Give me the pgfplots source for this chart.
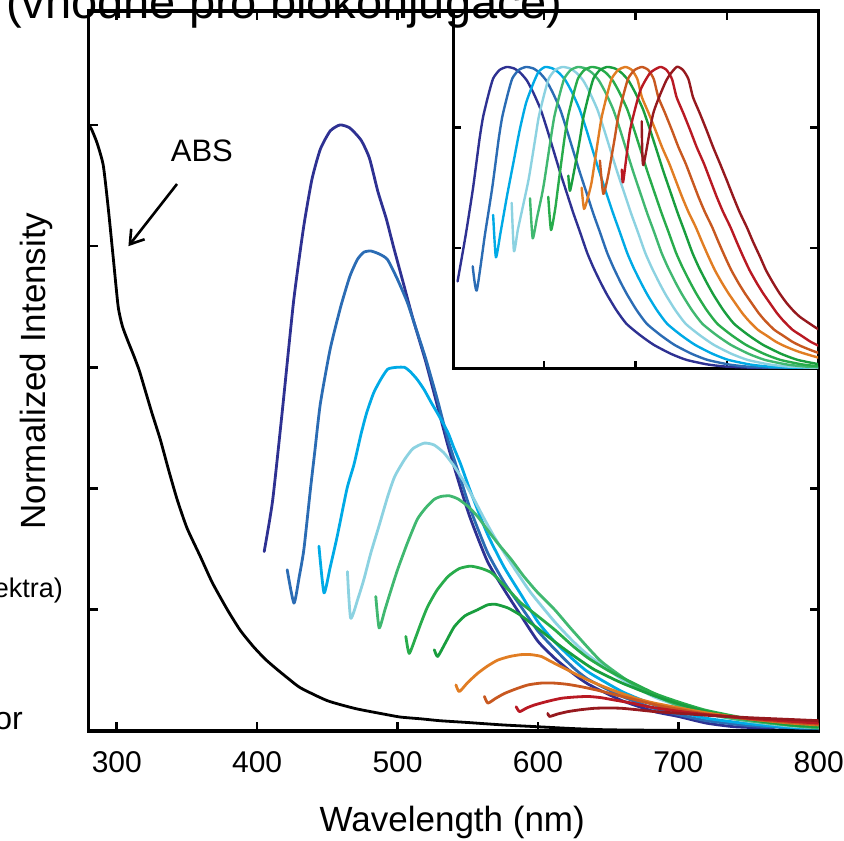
\documentclass[border=0pt]{standalone}
\usepackage{fontspec}
\setmainfont{Liberation Sans}
\usepackage{pgfplots}
\pgfplotsset{compat=1.18}
\usetikzlibrary{arrows.meta}
\definecolor{cNavy}{RGB}{46,49,146}
\definecolor{cBlue}{RGB}{43,108,180}
\definecolor{cSky}{RGB}{0,170,230}
\definecolor{cPale}{RGB}{140,210,225}
\definecolor{cTeal}{RGB}{64,184,112}
\definecolor{cGreen}{RGB}{40,172,75}
\definecolor{cGreenB}{RGB}{25,158,62}
\definecolor{cOrange}{RGB}{225,125,35}
\definecolor{cDkOrange}{RGB}{200,88,32}
\definecolor{cRed}{RGB}{185,25,35}
\definecolor{cDkRed}{RGB}{150,25,30}
\pgfplotsset{em/.style={line width=2.8pt, line join=round, line cap=round, smooth, tension=0.35},
             ei/.style={line width=2.4pt, line join=round, line cap=round, smooth, tension=0.35}}
\begin{document}
\begin{tikzpicture}
% ---------------- main axis ----------------
\begin{axis}[
  at={(88.7pt,110pt)}, anchor=south west,
  scale only axis, width=730pt, height=720pt,
  xmin=280, xmax=800, ymin=0, ymax=1.188,
  xtick={300,400,500,600,700,800},
  ytick={0,0.2,0.4,0.6,0.8,1.0},
  yticklabels={},
  tick align=inside,
  major tick length=9pt,
  axis line style={line width=3.2pt},
  every tick/.style={black, line width=2.6pt},
  /pgf/number format/assume math mode=true,
  xticklabel style={font=\fontsize{30}{36}\selectfont, yshift=-17pt},
  xlabel={Wavelength (nm)},
  xlabel style={font=\fontsize{35}{42}\selectfont, at={(axis description cs:0.498,-0.127)}, anchor=center},
  ylabel={Normalized Intensity},
  ylabel style={font=\fontsize{35}{42}\selectfont, at={(axis description cs:-0.071,0.5)}, anchor=center},
]
\addplot[em, cNavy] coordinates {(405,.296)(411,.38)(418,.53)(426,.71)(433,.83)(439,.91)(445,.96)(452,.99)(459,1.0)(466,.995)(474,.975)(480,.945)(486,.89)(492,.845)(497,.80)(504,.74)(511,.68)(520,.61)(528,.54)(536,.47)(545,.40)(552,.35)(564,.28)(576,.233)(588,.19)(600,.148)(612,.12)(625,.095)(636,.077)(660,.05)(683,.032)(700,.024)(720,.013)(740,.007)(765,.005)(770,.008)(775,.018)};
\addplot[em, cBlue] coordinates {(421.4,.266)(426.2,.211)(430,.255)(433.3,.30)(438,.40)(441,.46)(445,.54)(452,.63)(459.5,.70)(466,.75)(471.4,.778)(476,.79)(481,.792)(487,.787)(492.8,.778)(500,.745)(507,.707)(513,.665)(520,.615)(528,.55)(536,.48)(545,.415)(552,.365)(564,.295)(576,.245)(588,.205)(600,.165)(612,.135)(625,.105)(636,.085)(660,.057)(683,.037)(700,.027)(720,.017)(750,.009)(780,.005)(800,.003)};
\addplot[em, cSky] coordinates {(444,.305)(447.6,.228)(452,.27)(457,.321)(464,.40)(469,.44)(474,.49)(478,.525)(483,.558)(488,.58)(493,.597)(499,.60)(505,.60)(509,.593)(514,.58)(519,.563)(524,.542)(530,.518)(536,.492)(540,.468)(545,.44)(552,.395)(564,.325)(576,.27)(588,.225)(600,.18)(612,.147)(625,.118)(636,.097)(660,.065)(683,.043)(700,.032)(720,.021)(750,.012)(780,.006)(800,.004)};
\addplot[em, cPale] coordinates {(464.3,.263)(466.6,.186)(472,.22)(476,.25)(481,.294)(487,.34)(493,.387)(498,.42)(505,.448)(511,.466)(519,.475)(526,.472)(533,.459)(540,.438)(548,.409)(555,.38)(562,.349)(569,.32)(576,.294)(585,.262)(595,.228)(612,.18)(625,.148)(636,.125)(660,.085)(683,.056)(700,.042)(720,.028)(750,.016)(780,.008)(800,.005)};
\addplot[em, cTeal] coordinates {(484.5,.222)(486.9,.170)(491,.20)(495,.23)(500,.266)(507,.31)(514,.349)(520,.368)(526,.382)(531,.387)(537,.388)(543,.383)(550,.371)(557,.354)(564,.332)(572,.308)(581,.283)(590,.255)(600,.228)(612,.20)(625,.165)(645,.115)(669,.075)(685,.057)(700,.042)(717,.03)(740,.02)(764,.013)(785,.008)(800,.005)};
\addplot[em, cGreen] coordinates {(505.9,.156)(508.3,.128)(513,.155)(517,.18)(521.4,.205)(528,.232)(536,.255)(544,.268)(552,.272)(560,.268)(567,.261)(574,.245)(581,.228)(588,.211)(598,.193)(612,.167)(625,.14)(636,.12)(650,.10)(660,.088)(683,.062)(700,.048)(720,.034)(750,.02)(780,.01)(800,.007)};
\addplot[em, cGreenB] coordinates {(526.2,.134)(528.6,.123)(534,.145)(540.4,.172)(548,.19)(557,.20)(564,.208)(570,.209)(578.6,.203)(587,.192)(595,.178)(605,.16)(616.6,.139)(628,.12)(640.4,.101)(660,.079)(683,.058)(700,.045)(720,.032)(750,.019)(780,.01)(800,.007)};
\addplot[em, cOrange] coordinates {(541.6,.076)(544,.065)(550,.08)(557,.095)(564,.107)(571.4,.117)(580,.123)(588,.126)(595,.126)(602.4,.123)(609,.115)(616.6,.106)(626,.095)(635.7,.084)(647,.073)(659.5,.062)(671,.053)(683,.046)(702,.0375)(720,.03)(750,.02)(780,.013)(800,.01)};
\addplot[em, cDkOrange] coordinates {(561.9,.057)(564.3,.046)(570,.054)(576.2,.062)(585,.07)(592.9,.076)(602,.079)(611.9,.079)(621,.077)(631,.073)(643,.067)(654.7,.060)(667,.053)(678.6,.046)(690,.04)(702,.035)(720,.028)(750,.02)(780,.014)(800,.011)};
\addplot[em, cRed] coordinates {(584.5,.040)(586.9,.032)(592,.038)(597.6,.043)(607,.049)(616.7,.054)(626,.056)(635.7,.057)(645,.055)(654.7,.051)(667,.046)(678.6,.040)(690,.036)(702,.032)(720,.027)(750,.021)(780,.016)(800,.013)};
\addplot[em, cDkRed] coordinates {(607,.029)(608.3,.024)(614,.028)(621.4,.032)(630,.035)(640.4,.0375)(650,.038)(659.5,.0375)(671,.035)(683.3,.032)(702,.029)(720,.026)(750,.022)(780,.019)(800,.017)};
\addplot[em, black] coordinates {(280,1.0)(282,.993)(286,.97)(290.4,.933)(294,.861)(297.6,.778)(301,.70)(304,.668)(308,.643)(312,.62)(316,.595)(320,.564)(325,.525)(331,.481)(337,.43)(343,.382)(350,.335)(359.5,.288)(368,.245)(378.8,.200)(388,.166)(397.4,.139)(406,.118)(414.5,.101)(423,.085)(431,.071)(450,.05)(470,.037)(490,.028)(502,.023)(517,.02)(530,.017)(550,.014)(575,.01)(600,.007)(625,.004)(650,.002)(700,.001)(800,0)};
\node[font=\fontsize{31}{37}\selectfont] at (axis cs:360.6,0.958) {ABS};
\draw[line width=2.6pt, -{Straight Barb[length=13pt,width=17pt]}] (axis cs:342.9,0.9025) -- (axis cs:308.3,0.80);
\end{axis}
% ---------------- inset ----------------
\begin{axis}[
  at={(453pt,472pt)}, anchor=south west,
  scale only axis, width=365pt, height=357pt,
  xmin=400, xmax=800, ymin=0, ymax=1.182,
  xtick={500,600,700}, ytick={0.4,0.8},
  xticklabels={}, yticklabels={},
  tick align=inside, major tick length=8pt,
  axis line style={line width=3pt},
  every tick/.style={black, line width=2.4pt},
  axis background/.style={fill=white},
]
\addplot[ei, cNavy] coordinates {(405,.29)(414,.445)(422,.60)(429,.76)(433,.835)(439,.91)(444,.962)(451,.99)(459,1)(467,.995)(474,.98)(481,.955)(488,.915)(496,.86)(503,.795)(510,.725)(517,.655)(525,.58)(532,.515)(539,.455)(547,.385)(554,.335)(562,.285)(569,.245)(579,.195)(590,.15)(605,.112)(620,.08)(639,.05)(656,.03)(679,.015)(699,.008)(729,.004)(759,.002)(768,.006)(773,.013)};
\addplot[ei, cBlue] coordinates {(421.6,.34)(426,.26)(435,.445)(443,.60)(450,.76)(454,.835)(460,.91)(465,.962)(472,.99)(480,1)(488.1,.995)(495.2,.98)(502.2,.955)(509.3,.915)(517.4,.86)(524.4,.795)(531.5,.725)(538.6,.655)(546.7,.58)(553.7,.515)(560.8,.455)(568.9,.385)(576,.335)(584,.285)(591.1,.245)(601.2,.195)(612.3,.15)(627.5,.112)(642.6,.08)(661.8,.05)(679,.03)(702.2,.015)(722.4,.008)(752.7,.004)(783,.002)(823,.001)};
\addplot[ei, cSky] coordinates {(444,.51)(447,.37)(452,.45)(459,.57)(466,.68)(473,.79)(480,.88)(488,.946)(494,.985)(501,1)(509.2,.995)(516.3,.98)(523.4,.955)(530.6,.915)(538.7,.86)(545.9,.795)(553,.725)(560.2,.655)(568.3,.58)(575.5,.515)(582.6,.455)(590.8,.385)(597.9,.335)(606.1,.285)(613.2,.245)(623.4,.195)(634.6,.15)(649.9,.112)(665.2,.08)(684.6,.05)(701.9,.03)(725.4,.015)(745.8,.008)(776.4,.004)(807,.002)};
\addplot[ei, cPale] coordinates {(464.3,.55)(466.8,.39)(471,.46)(476,.53)(483,.63)(490,.76)(494,.835)(500,.91)(505,.962)(512,.99)(520,1)(528.2,.995)(535.5,.98)(542.7,.955)(549.9,.915)(558.1,.86)(565.3,.795)(572.5,.725)(579.7,.655)(588,.58)(595.2,.515)(602.4,.455)(610.6,.385)(617.9,.335)(626.1,.285)(633.3,.245)(643.6,.195)(654.9,.15)(670.4,.112)(685.8,.08)(705.4,.05)(722.9,.03)(746.6,.015)(767.2,.008)(798.1,.004)(829,.002)};
\addplot[ei, cTeal] coordinates {(484.4,.565)(487.3,.433)(492,.50)(497,.57)(500,.62)(507,.76)(511,.835)(517,.91)(522,.962)(529,.99)(537,1)(545.3,.995)(552.6,.98)(559.9,.955)(567.2,.915)(575.5,.86)(582.8,.795)(590,.725)(597.3,.655)(605.6,.58)(612.9,.515)(620.2,.455)(628.5,.385)(635.8,.335)(644.1,.285)(651.4,.245)(661.8,.195)(673.2,.15)(688.8,.112)(704.4,.08)(724.2,.05)(741.9,.03)(765.8,.015)(786.6,.008)(817.8,.004)};
\addplot[ei, cGreen] coordinates {(504.4,.57)(507.4,.46)(512,.53)(515,.60)(522,.76)(526,.835)(532,.91)(537,.962)(544,.99)(552,1)(560.4,.995)(567.8,.98)(575.1,.955)(582.5,.915)(590.9,.86)(598.2,.795)(605.6,.725)(612.9,.655)(621.3,.58)(628.7,.515)(636,.455)(644.4,.385)(651.8,.335)(660.2,.285)(667.5,.245)(678,.195)(689.6,.15)(705.3,.112)(721,.08)(741,.05)(758.9,.03)(783,.015)(804,.008)};
\addplot[ei, cGreenB] coordinates {(526.4,.64)(528.2,.59)(533,.66)(539,.76)(543,.835)(549,.91)(554,.962)(561,.99)(569,1)(577.5,.995)(584.9,.98)(592.3,.955)(599.7,.915)(608.2,.86)(615.6,.795)(623.1,.725)(630.5,.655)(639,.58)(646.4,.515)(653.8,.455)(662.3,.385)(669.7,.335)(678.2,.285)(685.6,.245)(696.2,.195)(707.9,.15)(723.8,.112)(739.7,.08)(759.8,.05)(777.8,.03)(802.2,.015)};
\addplot[ei, cOrange] coordinates {(541,.60)(543.6,.53)(548,.57)(552,.62)(559,.76)(563,.835)(569,.91)(574,.962)(581,.99)(589,1)(596,.99)(602,.96)(607,.90)(614,.85)(622,.79)(629,.735)(637,.68)(644,.625)(651,.57)(658,.52)(666,.47)(673,.42)(680,.372)(687,.327)(695,.284)(702,.25)(710,.215)(717,.185)(724,.16)(734,.13)(744,.11)(754,.09)(764,.075)(779,.057)(800,.038)(819,.025)};
\addplot[ei, cDkOrange] coordinates {(561,.69)(564.7,.58)(570,.64)(577,.76)(581,.835)(587,.91)(592,.962)(599,.99)(607,1)(614,.99)(620,.96)(625,.90)(632,.85)(640,.79)(647,.735)(655,.68)(662,.625)(669,.57)(676,.52)(684,.47)(691,.42)(698,.372)(705,.327)(713,.284)(720,.25)(728,.215)(735,.185)(742,.16)(752,.13)(762,.11)(772,.09)(782,.075)(797,.057)(818,.038)};
\addplot[ei, cRed] coordinates {(585,.66)(586.5,.62)(594,.79)(605,.92)(616,.98)(627,1)(634,.99)(640,.96)(645,.90)(652,.85)(660,.79)(667,.735)(675,.68)(682,.625)(689,.57)(696,.52)(704,.47)(711,.42)(718,.372)(725,.327)(733,.284)(740,.25)(748,.215)(755,.185)(762,.16)(772,.13)(782,.11)(792,.09)(802,.075)};
\addplot[ei, cDkRed] coordinates {(606.8,.82)(608.5,.675)(619.5,.847)(634,.957)(645,1)(652,.99)(658,.96)(663,.90)(670,.85)(678,.79)(685,.735)(692.6,.68)(700,.625)(707.2,.57)(714,.52)(721.9,.47)(729,.42)(736.4,.372)(743,.327)(751,.284)(758,.25)(765.7,.218)(773,.193)(780,.173)(790,.152)(798.5,.135)(805,.125)};
\end{axis}
% ---------------- cut-off slide text ----------------
\node[anchor=base west, inner sep=0pt, font=\fontsize{47}{56}\selectfont] at (6pt,822pt) {(vhodné pro biokonjugace)};
\node[anchor=base east, inner sep=0pt, font=\fontsize{27}{32}\selectfont] at (63pt,243pt) {ektra)};
\node[anchor=base east, inner sep=0pt, font=\fontsize{32}{38}\selectfont] at (23pt,111pt) {or};
\pgfresetboundingbox
\path[use as bounding box] (0pt,0pt) rectangle (844pt,841pt);
\end{tikzpicture}
\end{document}
